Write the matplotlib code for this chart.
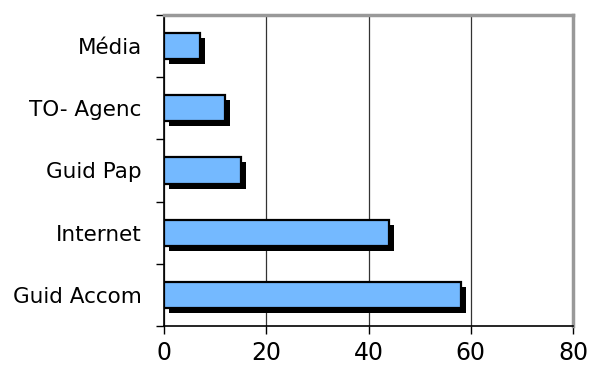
import matplotlib
matplotlib.use("Agg")
import matplotlib.pyplot as plt
import matplotlib.patheffects as pe

categories = ["Guid Accom", "Internet", "Guid Pap", "TO- Agenc", "Média"]
values = [58, 44, 15, 12, 7]
xticks = [0, 20, 40, 60, 80]

fig = plt.figure(figsize=(5.89, 3.65), dpi=100)
ax = fig.add_axes([164/589, 39/365, (573-164)/589, (326-15)/365])

bars = ax.barh(range(len(categories)), values, height=0.42, color="#74B9FF",
               edgecolor="black", linewidth=1.6, zorder=3)
for b in bars:
    b.set_path_effects([pe.SimplePatchShadow(offset=(3.6, -3.6), shadow_rgbFace="black", alpha=1.0),
                        pe.Normal()])

ax.set_xlim(0, 80)
ax.set_ylim(-0.5, len(categories) - 0.5)
ax.set_xticks(xticks)
ax.set_xticklabels([str(t) for t in xticks], fontsize=17)
ax.set_yticks(range(len(categories)))
ax.set_yticklabels(categories, fontsize=15.5)
ax.set_yticks([i - 0.5 for i in range(len(categories) + 1)], minor=True)
ax.tick_params(axis="y", which="major", length=0, pad=16)
ax.tick_params(axis="y", which="minor", length=6, width=1, direction="out")
ax.tick_params(axis="x", length=6, width=1, direction="out", pad=5)

ax.grid(axis="x", color="#333333", linewidth=0.9, zorder=0)
ax.spines["left"].set_color("black")
ax.spines["bottom"].set_color("black")
ax.spines["left"].set_linewidth(1.2)
ax.spines["bottom"].set_linewidth(1.2)
for s in ["top", "right"]:
    ax.spines[s].set_color("#999999")
    ax.spines[s].set_linewidth(2.5)

fig.savefig("out.png", dpi=100)
